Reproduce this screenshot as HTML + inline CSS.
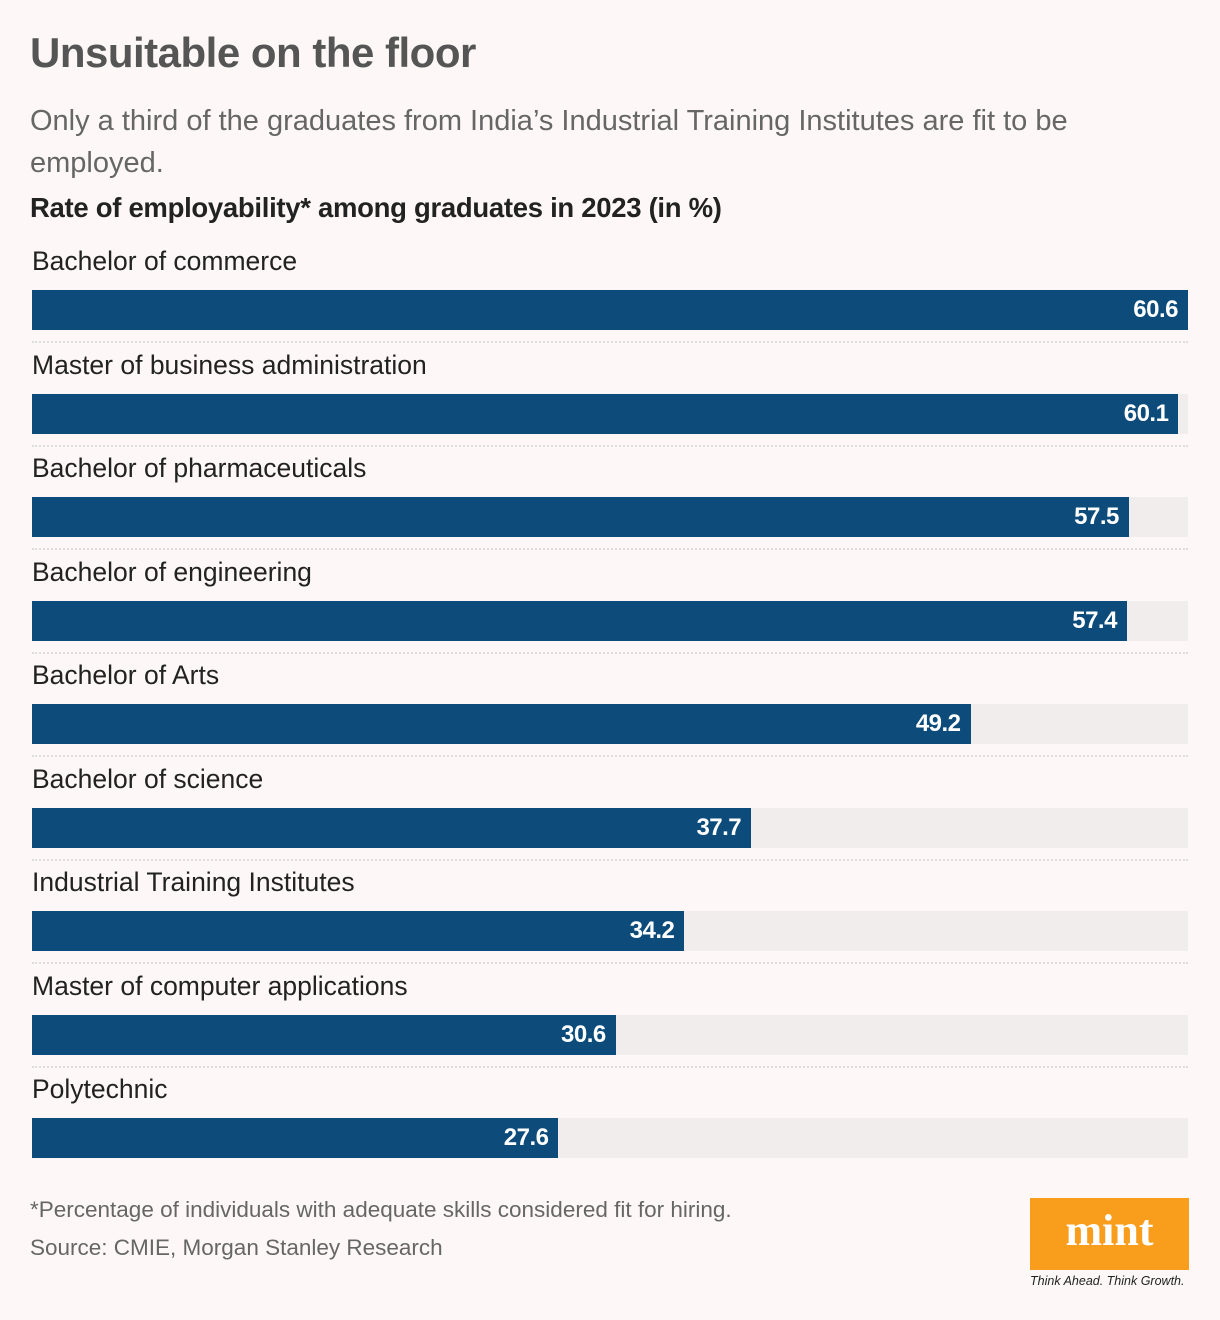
<!DOCTYPE html>
<html><head><meta charset="utf-8"><style>
body{margin:0;width:1220px;height:1320px;background:#fdf8f7;font-family:"Liberation Sans",sans-serif;position:relative;overflow:hidden}
.a{position:absolute;white-space:nowrap}
</style></head><body>
<div class="a" style="left:30px;top:29px;font-size:42px;font-weight:bold;color:#555;letter-spacing:-0.5px">Unsuitable on the floor</div>
<div class="a" style="left:30px;top:100px;font-size:29px;color:#666;line-height:42px;white-space:normal;width:1150px">Only a third of the graduates from India’s Industrial Training Institutes are fit to be employed.</div>
<div class="a" style="left:30px;top:192px;font-size:27.5px;font-weight:bold;color:#222;letter-spacing:-0.3px">Rate of employability* among graduates in 2023 (in %)</div>
<div id="chart"></div>
<div class="a" style="left:30px;top:1197px;font-size:22.5px;color:#666">*Percentage of individuals with adequate skills considered fit for hiring.</div>
<div class="a" style="left:30px;top:1235px;font-size:22.5px;color:#666">Source: CMIE, Morgan Stanley Research</div>
<div class="a" style="left:1030px;top:1198px;width:159px;height:72px;background:#f99d1c;color:#fff;font-family:'Liberation Serif',serif;font-weight:bold;font-size:44px;text-align:center;line-height:66px">mint</div>
<div class="a" style="left:1030px;top:1274px;font-size:12.5px;font-style:italic;color:#222">Think Ahead. Think Growth.</div>
<script>
const categories=["Bachelor of commerce","Master of business administration","Bachelor of pharmaceuticals","Bachelor of engineering","Bachelor of Arts","Bachelor of science","Industrial Training Institutes","Master of computer applications","Polytechnic"];
const values=[60.6,60.1,57.5,57.4,49.2,37.7,34.2,30.6,27.6];
const maxVal=60.6;
const X0=32,W=1156,Y0=290,STEP=103.5,BH=40;
const xs=v=>v/maxVal*W;
const c=document.getElementById('chart');
categories.forEach((cat,i)=>{
 const top=Math.round(Y0+i*STEP);
 const l=document.createElement('div');l.className='a';
 
 
 l.style.cssText=`left:${X0}px;top:${top-44}px;font-size:26.5px;color:#222`;l.textContent=cat;c.appendChild(l);
 const t=document.createElement('div');t.className='a';
 
 
 t.style.cssText=`left:${X0}px;top:${top}px;width:${W}px;height:${BH}px;background:#f1eded`;c.appendChild(t);
 const b=document.createElement('div');b.className='a';
 
 
 b.style.cssText=`left:${X0}px;top:${top}px;width:${xs(values[i])}px;height:${BH}px;background:#0d4c7a`;c.appendChild(b);
 const v=document.createElement('div');v.className='a';
 
 
 v.style.cssText=`left:${X0+xs(values[i])-110}px;width:100px;text-align:right;top:${top+6}px;font-size:24px;font-weight:bold;color:#fff;letter-spacing:-0.5px`;v.textContent=values[i].toFixed(1);c.appendChild(v);
 if(i<categories.length-1){const s=document.createElement('div');s.className='a';
 
 
 s.style.cssText=`left:${X0}px;top:${top+51}px;width:${W}px;border-top:2px dotted #ddd`;c.appendChild(s);}
});
</script>
</body></html>
